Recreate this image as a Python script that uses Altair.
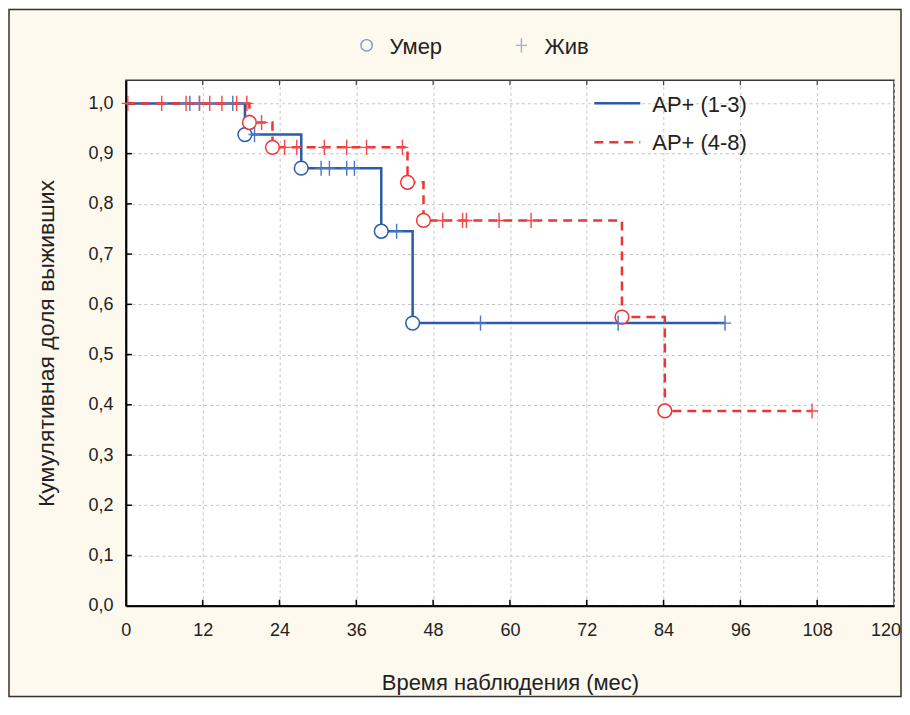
import altair as alt
import pandas as pd

# ---- data ----
series_names = ["AP+ (1-3)", "AP+ (4-8)"]

blue_death_t = [18.6, 27.4, 39.9, 44.8]
blue_death_s = [0.938, 0.871, 0.7455, 0.5626]
blue_cens_t = [10.0, 11.5, 16.7, 20.1, 30.5, 31.8, 34.5, 35.7, 42.3, 55.4, 76.9, 93.6]

red_death_t = [19.3, 22.9, 44.0, 46.5, 77.5, 84.2]
red_death_s = [0.962, 0.9125, 0.843, 0.767, 0.5746, 0.3877]
red_cens_t = [0.3, 5.6, 9.4, 11.5, 13.1, 15.0, 17.3, 18.9, 21.2, 24.8, 26.7, 31.0,
              34.5, 37.6, 43.2, 49.5, 52.6, 53.2, 58.3, 63.3, 107.2]

x_ticks = [0, 12, 24, 36, 48, 60, 72, 84, 96, 108, 120]
y_ticks = [0.0, 0.1, 0.2, 0.3, 0.4, 0.5, 0.6, 0.7, 0.8, 0.9, 1.0]

legend_top = ["Умер", "Жив"]

BLUE = "#2A5CAA"
RED = "#EE3535"
BLUE_C = "#4A76C2"
RED_C = "#F04A4A"
FONT = "Liberation Sans"

W, H = 769, 526


def step_value(t, dt, ds):
    s = 1.0
    for a, b in zip(dt, ds):
        if a <= t:
            s = b
    return s


def line_df(dt, ds, end):
    return pd.DataFrame({"t": [0.0] + dt + [end], "s": [1.0] + ds + [ds[-1]]})


def cens_df(ct, dt, ds):
    return pd.DataFrame({"t": ct, "s": [step_value(t, dt, ds) for t in ct]})


blue_line = line_df(blue_death_t, blue_death_s, blue_cens_t[-1])
red_line = line_df(red_death_t, red_death_s, red_cens_t[-1])
blue_c = cens_df(blue_cens_t, blue_death_t, blue_death_s)
red_c = cens_df(red_cens_t, red_death_t, red_death_s)
blue_d = pd.DataFrame({"t": blue_death_t, "s": blue_death_s})
red_d = pd.DataFrame({"t": red_death_t, "s": red_death_s})

xscale = alt.Scale(domain=[0, 120], nice=False)
yscale = alt.Scale(domain=[0, 1.046], nice=False)

last_x = x_ticks[-1]

x_axis = alt.Axis(values=x_ticks, grid=True, gridDash=[3, 3], gridColor="#c4c4c4",
                  domainColor="black", domainWidth=2, ticks=False,
                  labelFontSize=18, labelFont=FONT, labelColor="#222", labelPadding=16,
                  labelFlush=False,
                  labelExpr=f"datum.value == {last_x} ? '' : datum.label",
                  title="Время наблюдения (мес)", titleFont=FONT,
                  titleFontSize=22, titleFontWeight="normal", titleColor="#222",
                  titlePadding=33)
y_axis = alt.Axis(values=y_ticks, grid=True, gridDash=[3, 3], gridColor="#c4c4c4",
                  domainColor="black", domainWidth=2, ticks=False,
                  labelFontSize=18, labelFont=FONT, labelColor="#222", labelPadding=13,
                  labelExpr="replace(format(datum.value, '.1f'), '.', ',')",
                  title="Кумулятивная доля выживших", titleFont=FONT,
                  titleFontSize=23, titleFontWeight="normal", titleColor="#222",
                  titlePadding=29)

X = alt.X("t:Q", scale=xscale, axis=x_axis)
Y = alt.Y("s:Q", scale=yscale, axis=y_axis)

base_blue = alt.Chart(blue_line).mark_line(interpolate="step-after", color=BLUE,
                                            strokeWidth=2.5).encode(x=X, y=Y)
base_red = alt.Chart(red_line).mark_line(interpolate="step-after", color=RED,
                                          strokeWidth=2.5, strokeDash=[9, 6]).encode(
    x=alt.X("t:Q", scale=xscale), y=alt.Y("s:Q", scale=yscale))

PLUS = "M-0.8,0L0.8,0M0,-1L0,1"


def plus_layer(df, color):
    return alt.Chart(df).mark_point(shape=PLUS, size=230, filled=False, color=color,
                                    strokeWidth=1.4, opacity=1).encode(
        x=alt.X("t:Q", scale=xscale), y=alt.Y("s:Q", scale=yscale))


def circle_layer(df, color):
    return alt.Chart(df).mark_point(shape="circle", size=190, filled=False, fill="white",
                                    fillOpacity=1, color=color, stroke=color,
                                    strokeWidth=1.5, opacity=1).encode(
        x=alt.X("t:Q", scale=xscale), y=alt.Y("s:Q", scale=yscale))


# last x tick label, nudged left so it stays inside the figure
last_lbl = alt.Chart(pd.DataFrame({"t": [last_x], "lab": [str(last_x)]})).mark_text(
    align="center", baseline="top", font=FONT, fontSize=18, color="#222", dx=-8).encode(
    x=alt.X("t:Q", scale=xscale), y=alt.value(H + 16), text="lab:N")

# inner ticks
xt = pd.DataFrame({"t": x_ticks[1:-1]})
yt = pd.DataFrame({"s": y_ticks[1:]})
xticks_bottom = alt.Chart(xt).mark_rule(color="black", strokeWidth=1.5).encode(
    x=alt.X("t:Q", scale=xscale), y=alt.value(H), y2=alt.value(H - 6))
xticks_top = alt.Chart(xt).mark_rule(color="#444", strokeWidth=1.2).encode(
    x=alt.X("t:Q", scale=xscale), y=alt.value(0), y2=alt.value(5))
yticks_left = alt.Chart(yt).mark_rule(color="black", strokeWidth=1.5).encode(
    y=alt.Y("s:Q", scale=yscale), x=alt.value(0), x2=alt.value(6))

# outer frame
frame = alt.Chart(pd.DataFrame({"k": [0]})).mark_rect(
    fillOpacity=0, stroke="#333", strokeWidth=1.5).encode(
    x=alt.value(-117), x2=alt.value(W + 7), y=alt.value(-71), y2=alt.value(H + 91))

# top legend
lt = pd.DataFrame({"label": legend_top})
leg_circle = alt.Chart(lt.iloc[[0]]).mark_point(shape="circle", size=130, filled=False,
                                                color="#3A68BC", strokeWidth=1.3).encode(
    x=alt.value(241), y=alt.value(-35))
leg_plus = alt.Chart(lt.iloc[[1]]).mark_point(shape=PLUS, size=200, filled=False,
                                              color="#7396D0", strokeWidth=1.4).encode(
    x=alt.value(396), y=alt.value(-35))
leg_text1 = alt.Chart(lt.iloc[[0]]).mark_text(align="left", baseline="middle",
                                              font=FONT, fontSize=22, color="#222").encode(
    x=alt.value(264), y=alt.value(-33), text="label:N")
leg_text2 = alt.Chart(lt.iloc[[1]]).mark_text(align="left", baseline="middle",
                                              font=FONT, fontSize=22, color="#222").encode(
    x=alt.value(419), y=alt.value(-33), text="label:N")

# right legend
ls = pd.DataFrame({"label": series_names})
leg_l1 = alt.Chart(ls.iloc[[0]]).mark_rule(color=BLUE, strokeWidth=2.5).encode(
    x=alt.value(469), x2=alt.value(515), y=alt.value(23))
leg_l2 = alt.Chart(ls.iloc[[1]]).mark_rule(color=RED, strokeWidth=2.5,
                                           strokeDash=[9, 6]).encode(
    x=alt.value(469), x2=alt.value(515), y=alt.value(62))
leg_t1 = alt.Chart(ls.iloc[[0]]).mark_text(align="left", baseline="middle", font=FONT,
                                           fontSize=22, color="#222").encode(
    x=alt.value(527), y=alt.value(25), text="label:N")
leg_t2 = alt.Chart(ls.iloc[[1]]).mark_text(align="left", baseline="middle", font=FONT,
                                           fontSize=22, color="#222").encode(
    x=alt.value(527), y=alt.value(63), text="label:N")

chart = alt.layer(
    base_blue, base_red,
    xticks_bottom, xticks_top, yticks_left,
    circle_layer(blue_d, BLUE), circle_layer(red_d, RED),
    plus_layer(blue_c, BLUE_C), plus_layer(red_c, RED_C),
    last_lbl, frame,
    leg_circle, leg_plus, leg_text1, leg_text2,
    leg_l1, leg_l2, leg_t1, leg_t2,
).properties(
    width=W, height=H,
    padding={"left": 118, "top": 72, "right": 8, "bottom": 92},
    autosize=alt.AutoSizeParams(type="none"),
).configure(
    background="#FDF9EE",
).configure_view(
    fill="white", stroke="#3a3a3a", strokeWidth=1.5,
)

chart.save("out.html", embed_options={"renderer": "svg", "actions": False})
